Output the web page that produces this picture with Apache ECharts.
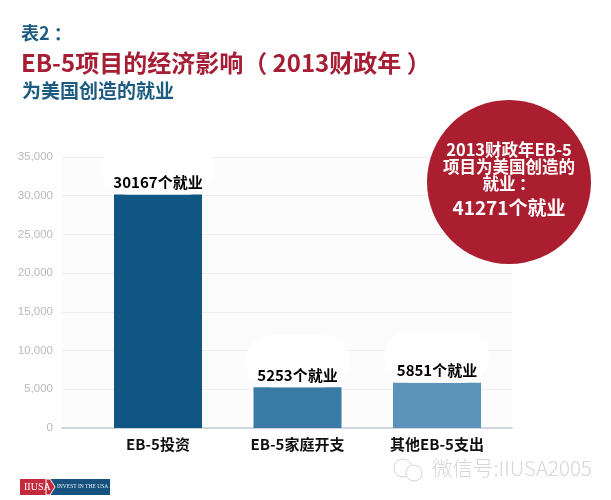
<!DOCTYPE html>
<html>
<head>
<meta charset="utf-8">
<style>
  html, body { margin: 0; padding: 0; background: #fff; }
  #chart { width: 611px; height: 500px; }
</style>
<script src="https://cdn.jsdelivr.net/npm/echarts@6/dist/echarts.min.js"></script>
</head>
<body>
<div id="chart"></div>
<script>
const categories = ['EB-5投资', 'EB-5家庭开支', '其他EB-5支出'];
const jobs = [30167, 5253, 5851];
const barColors = ['#0f5685', '#3a7ba6', '#5b93b9'];
const total = 41271;
const cjk = '"Noto Sans CJK SC", "Noto Sans", sans-serif';

const myChart = echarts.init(document.getElementById('chart'));

const centered = { align: 'center', verticalAlign: 'middle' };

const option = {
  animation: false,
  backgroundColor: '#fff',
  grid: [
    { left: 62, right: 99, top: 157, height: 271, show: true, backgroundColor: '#fcfcfc', borderWidth: 0 },
    { left: 88.25, right: 104.25, top: 157, height: 271 }
  ],
  xAxis: [
    {
      gridIndex: 0,
      type: 'category',
      data: categories,
      axisLabel: { show: false },
      axisTick: { show: false },
      axisLine: { lineStyle: { color: '#c4cbd2', width: 1.5 } }
    },
    {
      gridIndex: 1,
      type: 'category',
      data: categories,
      axisLine: { show: false },
      axisTick: { show: false },
      axisLabel: { color: '#111', fontFamily: cjk, fontWeight: 'bold', fontSize: 15, margin: 9 }
    }
  ],
  yAxis: [
    {
      gridIndex: 0,
      type: 'value',
      min: 0,
      max: 35000,
      interval: 5000,
      axisLine: { show: false },
      axisTick: { show: false },
      axisLabel: {
        color: '#b9b9b9',
        fontFamily: 'Liberation Sans',
        fontSize: 11.5,
        margin: 9,
        formatter: (v) => v.toLocaleString('en-US')
      },
      splitLine: { lineStyle: { color: '#eeeeee', width: 1 } }
    },
    { gridIndex: 1, type: 'value', min: 0, max: 35000, interval: 5000, show: false }
  ],
  series: [{
    type: 'bar',
    xAxisIndex: 1,
    yAxisIndex: 1,
    barWidth: 88,
    data: jobs.map((v, i) => ({ value: v, itemStyle: { color: barColors[i] } })),
    label: {
      show: true,
      position: 'top',
      distance: 0,
      color: '#000',
      fontFamily: cjk,
      fontWeight: 'bold',
      fontSize: 15,
      formatter: (p) => p.value + '个就业',
      backgroundColor: '#fff',
      borderRadius: 30,
      padding: [32, 12, 5, 12]
    }
  }],
  graphic: [
    { type: 'text', z: 10, left: 21, top: 24, style: { text: '表2 ：', fill: '#1d5c80', font: 'bold 18px ' + cjk } },
    { type: 'text', z: 10, left: 21, top: 51, style: { text: 'EB-5项目的经济影响（ 2013财政年 ）', fill: '#a61e34', font: 'bold 24px ' + cjk } },
    { type: 'text', z: 10, left: 22, top: 81, style: { text: '为美国创造的就业', fill: '#1d5c80', font: 'bold 19px ' + cjk } },
    { type: 'circle', z: 10, shape: { cx: 509, cy: 182, r: 82 }, style: { fill: '#ab1e2f' } },
    { type: 'text', z: 11, x: 509, y: 150, style: { text: '2013财政年EB-5', fill: '#fff', font: 'bold 16.5px ' + cjk, ...centered } },
    { type: 'text', z: 11, x: 509, y: 167, style: { text: '项目为美国创造的', fill: '#fff', font: 'bold 16.5px ' + cjk, ...centered } },
    { type: 'text', z: 11, x: 509, y: 184, style: { text: '就业 ：', fill: '#fff', font: 'bold 16.5px ' + cjk, ...centered } },
    { type: 'text', z: 11, x: 509, y: 208, style: { text: total + '个就业', fill: '#fff', font: 'bold 19px ' + cjk, ...centered } },
    { type: 'rect', z: 10, shape: { x: 20, y: 479, width: 30, height: 16 }, style: { fill: '#c42a3c' } },
    { type: 'rect', z: 10, shape: { x: 50, y: 479, width: 60, height: 16 }, style: { fill: '#17527f' } },
    { type: 'polygon', z: 10, shape: { points: [[46, 479], [50, 479], [55, 487], [50, 495], [46, 495]] }, style: { fill: '#c42a3c', stroke: '#fff', lineWidth: 1 } },
    { type: 'text', z: 11, x: 24, y: 487, style: { text: 'IIUSA', fill: '#fff', font: '10px "Liberation Serif"', verticalAlign: 'middle' } },
    { type: 'text', z: 11, x: 57, y: 487, style: { text: 'INVEST IN THE USA', fill: '#e8eef3', font: '5.5px "Liberation Serif"', verticalAlign: 'middle' } },
    { type: 'circle', z: 10, shape: { cx: 403, cy: 468, r: 9 }, style: { fill: 'none', stroke: '#d6d6d6', lineWidth: 1 } },
    { type: 'circle', z: 10, shape: { cx: 414, cy: 473, r: 8 }, style: { fill: '#fff', stroke: '#d6d6d6', lineWidth: 1 } },
    { type: 'text', z: 10, x: 432, y: 468, style: { text: '微信号:IIUSA2005', fill: '#d6d6d6', font: '300 20.5px ' + cjk, verticalAlign: 'middle' } }
  ]
};

myChart.setOption(option);
</script>
</body>
</html>
